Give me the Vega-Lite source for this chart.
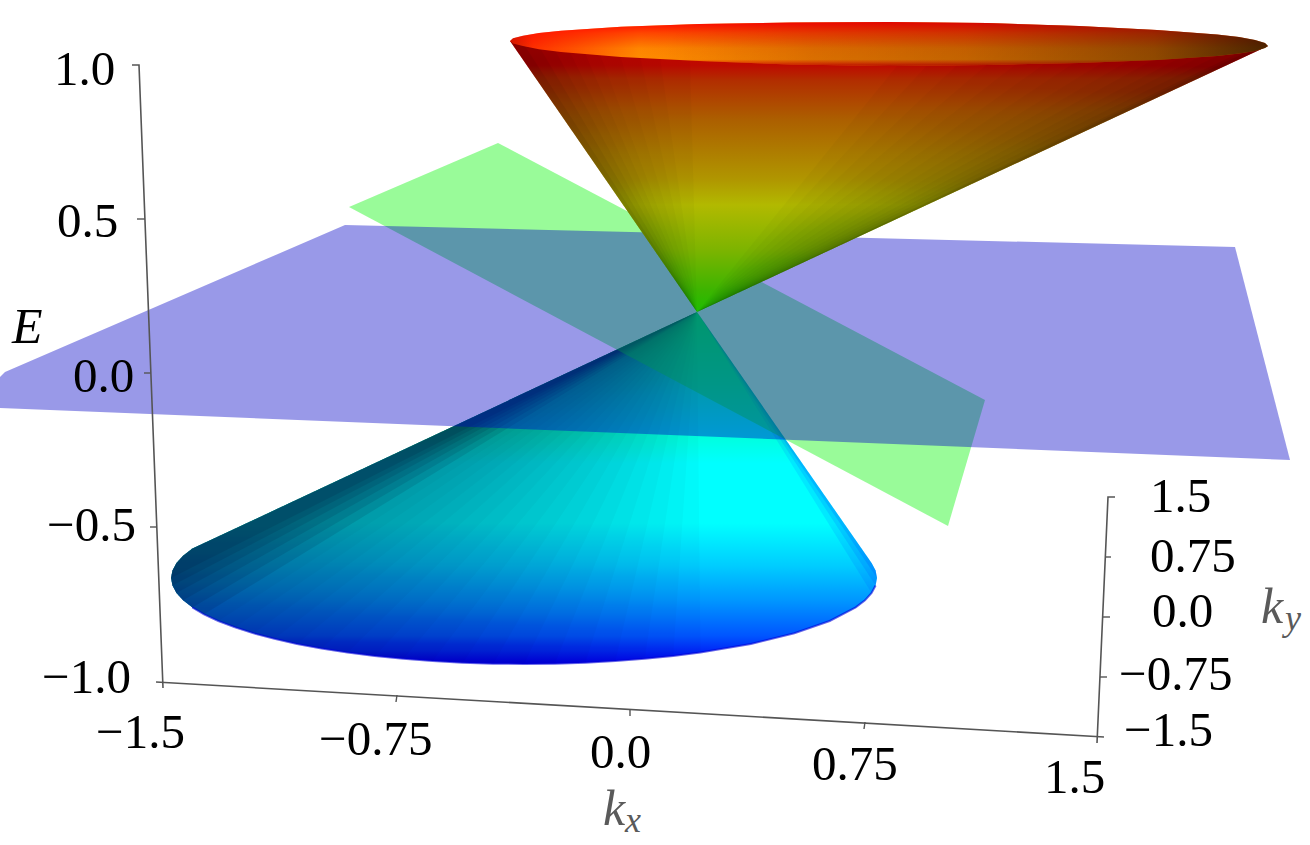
{"$schema":"https://vega.github.io/schema/vega-lite/v6.json","width":1310,"height":845,"padding":0,"autosize":{"type":"fit","contains":"padding"},"background":"white","view":{"stroke":null},
"datasets":{
"lowerCone":[{"i":-100,"u":697,"v":312},{"i":-20,"u":192.3,"v":548.6},{"i":-15,"u":183,"v":555.7},{"i":-10,"u":176.4,"v":563},{"i":-5,"u":172.4,"v":570.5},{"i":0,"u":171,"v":578},{"i":5,"u":172.4,"v":585.5},{"i":10,"u":176.4,"v":593},{"i":15,"u":183,"v":600.3},{"i":20,"u":192.3,"v":607.4},{"i":25,"u":204,"v":614.3},{"i":30,"u":218.3,"v":621},{"i":35,"u":235,"v":627.3},{"i":40,"u":253.6,"v":633.3},{"i":45,"u":274.4,"v":638.8},{"i":50,"u":297,"v":643.9},{"i":55,"u":321.5,"v":648.4},{"i":60,"u":347.5,"v":652.5},{"i":65,"u":374.8,"v":656},{"i":70,"u":403.3,"v":658.8},{"i":75,"u":432.6,"v":661},{"i":80,"u":462.7,"v":662.7},{"i":85,"u":493.2,"v":663.7},{"i":90,"u":524,"v":664},{"i":95,"u":554.8,"v":663.7},{"i":100,"u":585.3,"v":662.7},{"i":105,"u":615.4,"v":661},{"i":110,"u":644.7,"v":658.8},{"i":115,"u":673.2,"v":655.9},{"i":120,"u":700.5,"v":652.5},{"i":130,"u":750.9,"v":643.9},{"i":140,"u":794.4,"v":633.3},{"i":150,"u":829.7,"v":621},{"i":160,"u":855.7,"v":607.4},{"i":165,"u":865,"v":600.3},{"i":170,"u":871.6,"v":593},{"i":175,"u":875.6,"v":585.5},{"i":180,"u":877,"v":578},{"i":185,"u":875.6,"v":570.5},{"i":190,"u":871.6,"v":563}],
"lowerRight":[{"i":-1,"u":697,"v":312},{"i":0,"u":871.6,"v":563},{"i":1,"u":875.6,"v":570.5},{"i":2,"u":877,"v":578},{"i":3,"u":875.6,"v":585.5},{"i":4,"u":871.6,"v":593}],
"green":[{"i":0,"u":498,"v":143},{"i":1,"u":349,"v":207},{"i":2,"u":948,"v":526},{"i":3,"u":985,"v":400}],
"blue":[{"i":0,"u":345,"v":225},{"i":1,"u":1235,"v":247},{"i":2,"u":1290,"v":460},{"i":3,"u":0,"v":408},{"i":4,"u":0,"v":377},{"i":5,"u":5,"v":372}],
"upperCone":[{"i":0,"u":697,"v":312},{"i":1,"u":510,"v":41},{"i":2,"u":1268,"v":46}],
"upperLeft":[{"i":-1,"u":697,"v":312},{"i":0,"u":510,"v":41},{"i":1,"u":525,"v":46},{"i":2,"u":540,"v":48},{"i":3,"u":555,"v":50},{"i":4,"u":570,"v":52},{"i":5,"u":585,"v":53},{"i":6,"u":600,"v":54},{"i":7,"u":620,"v":55},{"i":8,"u":640,"v":56},{"i":9,"u":660,"v":57},{"i":10,"u":690,"v":58}],
"upperRight":[{"i":-1,"u":697,"v":312},{"i":0,"u":1268,"v":46},{"i":1,"u":1255,"v":48},{"i":2,"u":1245,"v":50},{"i":3,"u":1225,"v":52},{"i":4,"u":1205,"v":54},{"i":5,"u":1185,"v":55},{"i":6,"u":1160,"v":56},{"i":7,"u":1135,"v":57},{"i":8,"u":1110,"v":58},{"i":9,"u":1080,"v":59},{"i":10,"u":1050,"v":60},{"i":11,"u":1020,"v":61},{"i":12,"u":990,"v":62},{"i":13,"u":960,"v":62},{"i":14,"u":930,"v":62},{"i":15,"u":900,"v":62}],
"rim":[{"i":0,"u":510,"v":41},{"i":1,"u":513,"v":38.3},{"i":2,"u":523,"v":35.7},{"i":3,"u":539,"v":33.1},{"i":4,"u":561,"v":30.8},{"i":5,"u":621,"v":26.8},{"i":6,"u":699,"v":24},{"i":7,"u":791,"v":22.5},{"i":8,"u":889,"v":22},{"i":9,"u":987,"v":23},{"i":10,"u":1079,"v":26},{"i":11,"u":1157,"v":30},{"i":12,"u":1217,"v":34.5},{"i":13,"u":1239,"v":37},{"i":14,"u":1255,"v":40},{"i":15,"u":1265,"v":43},{"i":16,"u":1268,"v":46},{"i":17,"u":1265,"v":48},{"i":18,"u":1255,"v":51},{"i":19,"u":1239,"v":53.5},{"i":20,"u":1217,"v":56},{"i":21,"u":1157,"v":60},{"i":22,"u":1079,"v":63},{"i":23,"u":987,"v":65},{"i":24,"u":889,"v":66},{"i":25,"u":791,"v":64.5},{"i":26,"u":699,"v":61},{"i":27,"u":621,"v":57},{"i":28,"u":561,"v":52},{"i":29,"u":539,"v":49.3},{"i":30,"u":523,"v":46},{"i":31,"u":513,"v":43.5}],
"axes":[{"s":"E","i":0,"u":132,"v":65},{"s":"E","i":1,"u":139,"v":65},{"s":"E","i":2,"u":163,"v":688},{"s":"kx","i":0,"u":156,"v":682},{"s":"kx","i":1,"u":1104,"v":737},{"s":"ky","i":0,"u":1115,"v":497},{"s":"ky","i":1,"u":1108,"v":497},{"s":"ky","i":2,"u":1097,"v":743}],
"ticks":[{"s":"e1","i":0,"u":137,"v":219},{"s":"e1","i":1,"u":145,"v":219},{"s":"e2","i":0,"u":144,"v":373},{"s":"e2","i":1,"u":151,"v":373},{"s":"e3","i":0,"u":150,"v":527},{"s":"e3","i":1,"u":157,"v":527},{"s":"x1","i":0,"u":397,"v":695},{"s":"x1","i":1,"u":396,"v":702},{"s":"x2","i":0,"u":630,"v":709},{"s":"x2","i":1,"u":630,"v":716},{"s":"x3","i":0,"u":865,"v":722},{"s":"x3","i":1,"u":864,"v":729},{"s":"y1","i":0,"u":1106,"v":557},{"s":"y1","i":1,"u":1111,"v":557},{"s":"y2","i":0,"u":1103,"v":617},{"s":"y2","i":1,"u":1110,"v":617},{"s":"y3","i":0,"u":1100,"v":677},{"s":"y3","i":1,"u":1107,"v":677}],
"tickLabels":[{"t":"1.0","u":54,"v":85},{"t":"0.5","u":57,"v":237},{"t":"0.0","u":73,"v":392},{"t":"−0.5","u":47,"v":541},{"t":"−1.0","u":42,"v":693},{"t":"−1.5","u":96,"v":748},{"t":"−0.75","u":319,"v":755},{"t":"0.0","u":590,"v":768},{"t":"0.75","u":812,"v":780},{"t":"1.5","u":1044,"v":793},{"t":"1.5","u":1150,"v":512},{"t":"0.75","u":1150,"v":572},{"t":"0.0","u":1152,"v":627},{"t":"−0.75","u":1119,"v":690},{"t":"−1.5","u":1124,"v":746}],
"titleK":[{"t":"k","u":603,"v":825},{"t":"k","u":1261,"v":623}],
"titleSub":[{"t":"x","u":625,"v":832},{"t":"y","u":1285,"v":630}],
"titleE":[{"t":"E","u":12,"v":343}]
},
"encoding":{"x":{"field":"u","type":"quantitative","scale":{"domain":[0,1310],"nice":false,"zero":false},"axis":null},"y":{"field":"v","type":"quantitative","scale":{"domain":[845,0],"nice":false,"zero":false},"axis":null},"order":{"field":"i","type":"quantitative"}},
"layer":[
{"data":{"name":"lowerCone"},"mark":{"type":"line","strokeWidth":0,"fill":{"gradient":"linear","x1":0,"y1":0,"x2":0,"y2":1,"stops":[{"offset":0,"color":"rgb(0,255,85)"},{"offset":0.193,"color":"rgb(0,255,150)"},{"offset":0.36,"color":"rgb(0,255,225)"},{"offset":0.43,"color":"rgb(0,255,255)"},{"offset":0.6,"color":"rgb(0,255,255)"},{"offset":0.72,"color":"rgb(0,205,255)"},{"offset":0.82,"color":"rgb(0,150,255)"},{"offset":0.92,"color":"rgb(0,85,255)"},{"offset":1,"color":"rgb(0,0,240)"}]}}},
{"data":{"name":"lowerCone"},"transform":[{"filter":"datum.i<=120"}],"mark":{"type":"line","strokeWidth":0,"fill":"rgb(0,0,40)","opacity":0.025}},
{"data":{"name":"lowerCone"},"transform":[{"filter":"datum.i<=115"}],"mark":{"type":"line","strokeWidth":0,"fill":"rgb(0,0,40)","opacity":0.025}},
{"data":{"name":"lowerCone"},"transform":[{"filter":"datum.i<=110"}],"mark":{"type":"line","strokeWidth":0,"fill":"rgb(0,0,40)","opacity":0.025}},
{"data":{"name":"lowerCone"},"transform":[{"filter":"datum.i<=105"}],"mark":{"type":"line","strokeWidth":0,"fill":"rgb(0,0,40)","opacity":0.025}},
{"data":{"name":"lowerCone"},"transform":[{"filter":"datum.i<=100"}],"mark":{"type":"line","strokeWidth":0,"fill":"rgb(0,0,40)","opacity":0.025}},
{"data":{"name":"lowerCone"},"transform":[{"filter":"datum.i<=95"}],"mark":{"type":"line","strokeWidth":0,"fill":"rgb(0,0,40)","opacity":0.025}},
{"data":{"name":"lowerCone"},"transform":[{"filter":"datum.i<=90"}],"mark":{"type":"line","strokeWidth":0,"fill":"rgb(0,0,40)","opacity":0.025}},
{"data":{"name":"lowerCone"},"transform":[{"filter":"datum.i<=85"}],"mark":{"type":"line","strokeWidth":0,"fill":"rgb(0,0,40)","opacity":0.025}},
{"data":{"name":"lowerCone"},"transform":[{"filter":"datum.i<=80"}],"mark":{"type":"line","strokeWidth":0,"fill":"rgb(0,0,40)","opacity":0.025}},
{"data":{"name":"lowerCone"},"transform":[{"filter":"datum.i<=75"}],"mark":{"type":"line","strokeWidth":0,"fill":"rgb(0,0,40)","opacity":0.025}},
{"data":{"name":"lowerCone"},"transform":[{"filter":"datum.i<=70"}],"mark":{"type":"line","strokeWidth":0,"fill":"rgb(0,0,40)","opacity":0.025}},
{"data":{"name":"lowerCone"},"transform":[{"filter":"datum.i<=65"}],"mark":{"type":"line","strokeWidth":0,"fill":"rgb(0,0,40)","opacity":0.025}},
{"data":{"name":"lowerCone"},"transform":[{"filter":"datum.i<=60"}],"mark":{"type":"line","strokeWidth":0,"fill":"rgb(0,0,40)","opacity":0.025}},
{"data":{"name":"lowerCone"},"transform":[{"filter":"datum.i<=55"}],"mark":{"type":"line","strokeWidth":0,"fill":"rgb(0,0,40)","opacity":0.025}},
{"data":{"name":"lowerCone"},"transform":[{"filter":"datum.i<=50"}],"mark":{"type":"line","strokeWidth":0,"fill":"rgb(0,0,40)","opacity":0.025}},
{"data":{"name":"lowerCone"},"transform":[{"filter":"datum.i<=45"}],"mark":{"type":"line","strokeWidth":0,"fill":"rgb(0,0,40)","opacity":0.025}},
{"data":{"name":"lowerCone"},"transform":[{"filter":"datum.i<=40"}],"mark":{"type":"line","strokeWidth":0,"fill":"rgb(0,0,40)","opacity":0.025}},
{"data":{"name":"lowerCone"},"transform":[{"filter":"datum.i<=35"}],"mark":{"type":"line","strokeWidth":0,"fill":"rgb(0,0,40)","opacity":0.025}},
{"data":{"name":"lowerCone"},"transform":[{"filter":"datum.i<=30"}],"mark":{"type":"line","strokeWidth":0,"fill":"rgb(0,0,40)","opacity":0.025}},
{"data":{"name":"lowerCone"},"transform":[{"filter":"datum.i<=25"}],"mark":{"type":"line","strokeWidth":0,"fill":"rgb(0,0,40)","opacity":0.1}},
{"data":{"name":"lowerCone"},"transform":[{"filter":"datum.i<=20"}],"mark":{"type":"line","strokeWidth":0,"fill":"rgb(0,0,40)","opacity":0.1}},
{"data":{"name":"lowerCone"},"transform":[{"filter":"datum.i<=15"}],"mark":{"type":"line","strokeWidth":0,"fill":"rgb(0,0,40)","opacity":0.1}},
{"data":{"name":"lowerCone"},"transform":[{"filter":"datum.i<=10"}],"mark":{"type":"line","strokeWidth":0,"fill":"rgb(0,0,40)","opacity":0.1}},
{"data":{"name":"lowerCone"},"transform":[{"filter":"datum.i<=5"}],"mark":{"type":"line","strokeWidth":0,"fill":"rgb(0,0,40)","opacity":0.1}},
{"data":{"name":"lowerCone"},"transform":[{"filter":"datum.i<=0"}],"mark":{"type":"line","strokeWidth":0,"fill":"rgb(0,0,40)","opacity":0.1}},
{"data":{"name":"lowerRight"},"transform":[{"filter":"datum.i<=4"}],"mark":{"type":"line","strokeWidth":0,"fill":"rgb(0,40,255)","opacity":0.1}},
{"data":{"name":"lowerRight"},"transform":[{"filter":"datum.i<=3"}],"mark":{"type":"line","strokeWidth":0,"fill":"rgb(0,40,255)","opacity":0.12}},
{"data":{"name":"lowerRight"},"transform":[{"filter":"datum.i<=2"}],"mark":{"type":"line","strokeWidth":0,"fill":"rgb(0,40,255)","opacity":0.15}},
{"data":{"name":"lowerCone"},"transform":[{"filter":"datum.i>=20 && datum.i<=175"}],"mark":{"type":"line","stroke":"rgb(0,0,215)","strokeWidth":2,"opacity":0.6}},
{"data":{"name":"green"},"mark":{"type":"line","strokeWidth":0,"fill":"rgb(0,245,0)","opacity":0.4}},
{"data":{"name":"blue"},"mark":{"type":"line","strokeWidth":0,"fill":"rgb(0,0,197)","opacity":0.4}},
{"data":{"name":"upperCone"},"mark":{"type":"line","strokeWidth":0,"fill":{"gradient":"linear","x1":0,"y1":0,"x2":0,"y2":1,"stops":[{"offset":0,"color":"rgb(200,0,0)"},{"offset":0.09,"color":"rgb(190,10,0)"},{"offset":0.144,"color":"rgb(178,45,0)"},{"offset":0.29,"color":"rgb(172,95,0)"},{"offset":0.51,"color":"rgb(176,150,0)"},{"offset":0.605,"color":"rgb(178,185,0)"},{"offset":0.77,"color":"rgb(125,180,0)"},{"offset":0.92,"color":"rgb(60,180,0)"},{"offset":1,"color":"rgb(30,190,0)"}]}}},
{"data":{"name":"upperLeft"},"transform":[{"filter":"datum.i<=10"}],"mark":{"type":"line","strokeWidth":0,"fill":"black","opacity":0.025}},
{"data":{"name":"upperLeft"},"transform":[{"filter":"datum.i<=9"}],"mark":{"type":"line","strokeWidth":0,"fill":"black","opacity":0.025}},
{"data":{"name":"upperLeft"},"transform":[{"filter":"datum.i<=8"}],"mark":{"type":"line","strokeWidth":0,"fill":"black","opacity":0.025}},
{"data":{"name":"upperLeft"},"transform":[{"filter":"datum.i<=7"}],"mark":{"type":"line","strokeWidth":0,"fill":"black","opacity":0.025}},
{"data":{"name":"upperLeft"},"transform":[{"filter":"datum.i<=6"}],"mark":{"type":"line","strokeWidth":0,"fill":"black","opacity":0.025}},
{"data":{"name":"upperLeft"},"transform":[{"filter":"datum.i<=5"}],"mark":{"type":"line","strokeWidth":0,"fill":"black","opacity":0.03}},
{"data":{"name":"upperLeft"},"transform":[{"filter":"datum.i<=4"}],"mark":{"type":"line","strokeWidth":0,"fill":"black","opacity":0.03}},
{"data":{"name":"upperLeft"},"transform":[{"filter":"datum.i<=3"}],"mark":{"type":"line","strokeWidth":0,"fill":"black","opacity":0.04}},
{"data":{"name":"upperLeft"},"transform":[{"filter":"datum.i<=2"}],"mark":{"type":"line","strokeWidth":0,"fill":"black","opacity":0.05}},
{"data":{"name":"upperLeft"},"transform":[{"filter":"datum.i<=1"}],"mark":{"type":"line","strokeWidth":0,"fill":"black","opacity":0.06}},
{"data":{"name":"upperRight"},"transform":[{"filter":"datum.i<=15"}],"mark":{"type":"line","strokeWidth":0,"fill":"black","opacity":0.025}},
{"data":{"name":"upperRight"},"transform":[{"filter":"datum.i<=14"}],"mark":{"type":"line","strokeWidth":0,"fill":"black","opacity":0.025}},
{"data":{"name":"upperRight"},"transform":[{"filter":"datum.i<=13"}],"mark":{"type":"line","strokeWidth":0,"fill":"black","opacity":0.025}},
{"data":{"name":"upperRight"},"transform":[{"filter":"datum.i<=12"}],"mark":{"type":"line","strokeWidth":0,"fill":"black","opacity":0.025}},
{"data":{"name":"upperRight"},"transform":[{"filter":"datum.i<=11"}],"mark":{"type":"line","strokeWidth":0,"fill":"black","opacity":0.025}},
{"data":{"name":"upperRight"},"transform":[{"filter":"datum.i<=10"}],"mark":{"type":"line","strokeWidth":0,"fill":"black","opacity":0.025}},
{"data":{"name":"upperRight"},"transform":[{"filter":"datum.i<=9"}],"mark":{"type":"line","strokeWidth":0,"fill":"black","opacity":0.025}},
{"data":{"name":"upperRight"},"transform":[{"filter":"datum.i<=8"}],"mark":{"type":"line","strokeWidth":0,"fill":"black","opacity":0.025}},
{"data":{"name":"upperRight"},"transform":[{"filter":"datum.i<=7"}],"mark":{"type":"line","strokeWidth":0,"fill":"black","opacity":0.025}},
{"data":{"name":"upperRight"},"transform":[{"filter":"datum.i<=6"}],"mark":{"type":"line","strokeWidth":0,"fill":"black","opacity":0.03}},
{"data":{"name":"upperRight"},"transform":[{"filter":"datum.i<=5"}],"mark":{"type":"line","strokeWidth":0,"fill":"black","opacity":0.03}},
{"data":{"name":"upperRight"},"transform":[{"filter":"datum.i<=4"}],"mark":{"type":"line","strokeWidth":0,"fill":"black","opacity":0.03}},
{"data":{"name":"upperRight"},"transform":[{"filter":"datum.i<=3"}],"mark":{"type":"line","strokeWidth":0,"fill":"black","opacity":0.04}},
{"data":{"name":"upperRight"},"transform":[{"filter":"datum.i<=2"}],"mark":{"type":"line","strokeWidth":0,"fill":"black","opacity":0.06}},
{"data":{"name":"upperRight"},"transform":[{"filter":"datum.i<=1"}],"mark":{"type":"line","strokeWidth":0,"fill":"black","opacity":0.08}},
{"data":{"name":"rim"},"mark":{"type":"line","strokeWidth":0,"fill":{"gradient":"linear","x1":0,"y1":0,"x2":1,"y2":0,"stops":[{"offset":0,"color":"rgb(200,30,0)"},{"offset":0.03,"color":"rgb(255,50,0)"},{"offset":0.17,"color":"rgb(255,140,0)"},{"offset":0.4,"color":"rgb(235,120,0)"},{"offset":1,"color":"rgb(215,110,0)"}]}}},
{"data":{"name":"rim"},"mark":{"type":"line","strokeWidth":0,"fill":{"gradient":"linear","x1":0,"y1":0,"x2":0,"y2":1,"stops":[{"offset":0,"color":"rgba(255,0,0,0.95)"},{"offset":0.25,"color":"rgba(255,0,0,0.5)"},{"offset":0.6,"color":"rgba(240,0,0,0.05)"},{"offset":0.85,"color":"rgba(230,0,0,0)"},{"offset":1,"color":"rgba(200,0,0,0.85)"}]}}},
{"data":{"name":"rim"},"mark":{"type":"line","strokeWidth":0,"fill":{"gradient":"linear","x1":0,"y1":0,"x2":1,"y2":0,"stops":[{"offset":0,"color":"rgba(0,0,0,0)"},{"offset":0.2,"color":"rgba(0,0,0,0)"},{"offset":0.6,"color":"rgba(0,0,0,0.15)"},{"offset":0.85,"color":"rgba(0,0,0,0.35)"},{"offset":1,"color":"rgba(0,0,0,0.65)"}]}}},
{"data":{"name":"axes"},"mark":{"type":"line","stroke":"#555555","strokeWidth":1.6},"encoding":{"detail":{"field":"s"}}},
{"data":{"name":"ticks"},"mark":{"type":"line","stroke":"#555555","strokeWidth":1.4},"encoding":{"detail":{"field":"s"}}},
{"data":{"name":"tickLabels"},"mark":{"type":"text","font":"Liberation Serif","fontSize":49,"align":"left","baseline":"alphabetic","color":"#000000"},"encoding":{"text":{"field":"t"}}},
{"data":{"name":"titleE"},"mark":{"type":"text","font":"Liberation Serif","fontStyle":"italic","fontSize":50,"align":"left","baseline":"alphabetic","color":"#000000"},"encoding":{"text":{"field":"t"}}},
{"data":{"name":"titleK"},"mark":{"type":"text","font":"Liberation Serif","fontStyle":"italic","fontSize":50,"align":"left","baseline":"alphabetic","color":"#5a5a5a"},"encoding":{"text":{"field":"t"}}},
{"data":{"name":"titleSub"},"mark":{"type":"text","font":"Liberation Serif","fontStyle":"italic","fontSize":36,"align":"left","baseline":"alphabetic","color":"#5a5a5a"},"encoding":{"text":{"field":"t"}}}
]}
